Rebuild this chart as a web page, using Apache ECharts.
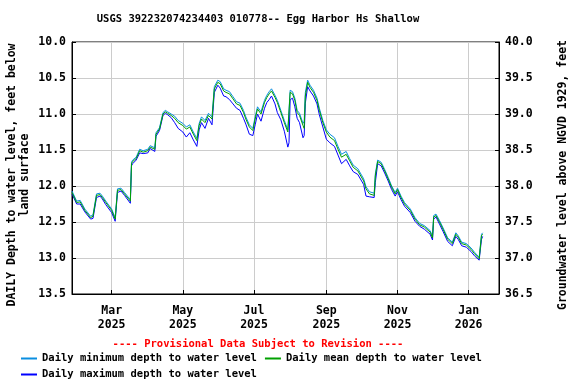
<!DOCTYPE html>
<html>
<head>
<meta charset="utf-8">
<script src="https://cdn.jsdelivr.net/npm/echarts@6/dist/echarts.min.js"></script>
<style>
html,body{margin:0;padding:0;background:#fff;}
#chart{width:576px;height:384px;}
</style>
</head>
<body>
<div id="chart"></div>
<script>
var titleText = 'USGS 392232074234403 010778-- Egg Harbor Hs Shallow';
var provisionalText = '---- Provisional Data Subject to Revision ----';
var leftAxisName = 'DAILY Depth to water level, feet below\nland surface';
var rightAxisName = 'Groundwater level above NGVD 1929, feet';
var seriesNames = ['Daily minimum depth to water level', 'Daily mean depth to water level', 'Daily maximum depth to water level'];

var dates = [
'2025-01-26','2025-01-30','2025-02-02','2025-02-06','2025-02-11','2025-02-13','2025-02-16','2025-02-19','2025-02-21','2025-02-24',
'2025-03-01','2025-03-04','2025-03-06','2025-03-09','2025-03-12','2025-03-17','2025-03-18','2025-03-19','2025-03-22','2025-03-25',
'2025-03-28','2025-04-01','2025-04-03','2025-04-07','2025-04-08','2025-04-11','2025-04-14','2025-04-16','2025-04-18','2025-04-21',
'2025-04-24','2025-04-27','2025-05-01','2025-05-04','2025-05-07','2025-05-10','2025-05-13','2025-05-15','2025-05-17','2025-05-20',
'2025-05-23','2025-05-26','2025-05-28','2025-05-31','2025-06-02','2025-06-05','2025-06-07','2025-06-10','2025-06-13','2025-06-16',
'2025-06-19','2025-06-22','2025-06-24','2025-06-27','2025-06-30','2025-07-02','2025-07-04','2025-07-07','2025-07-10','2025-07-12',
'2025-07-14','2025-07-16','2025-07-19','2025-07-21','2025-07-24','2025-07-27','2025-07-30','2025-07-31','2025-08-01','2025-08-03',
'2025-08-05','2025-08-07','2025-08-09','2025-08-12','2025-08-13','2025-08-14','2025-08-16','2025-08-18','2025-08-21','2025-08-24',
'2025-08-26','2025-08-29','2025-09-01','2025-09-04','2025-09-08','2025-09-11','2025-09-14','2025-09-18','2025-09-21','2025-09-24',
'2025-09-28','2025-10-03','2025-10-05','2025-10-08','2025-10-12','2025-10-13','2025-10-15','2025-10-18','2025-10-21','2025-10-24',
'2025-10-27','2025-10-30','2025-11-01','2025-11-04','2025-11-07','2025-11-12','2025-11-16','2025-11-20','2025-11-24','2025-11-29',
'2025-12-01','2025-12-02','2025-12-04','2025-12-07','2025-12-10','2025-12-14','2025-12-18','2025-12-21','2025-12-23','2025-12-26',
'2025-12-30','2026-01-03','2026-01-06','2026-01-10','2026-01-12','2026-01-13'
];

var meanDepth = [
12.09,12.23,12.22,12.34,12.44,12.42,12.13,12.12,12.16,12.23,
12.34,12.46,12.06,12.05,12.11,12.21,11.69,11.66,11.62,11.51,
11.53,11.51,11.46,11.49,11.28,11.21,11.00,10.97,10.99,11.02,
11.06,11.12,11.16,11.21,11.18,11.28,11.37,11.16,11.07,11.12,
11.02,11.07,10.65,10.56,10.58,10.68,10.70,10.72,10.79,10.86,
10.88,10.98,11.07,11.18,11.23,11.07,10.93,11.00,10.84,10.77,
10.72,10.68,10.77,10.84,10.98,11.12,11.25,11.27,10.70,10.72,
10.81,10.98,11.02,11.16,11.20,10.75,10.56,10.63,10.70,10.81,
10.95,11.12,11.25,11.32,11.37,11.49,11.60,11.56,11.65,11.74,
11.79,11.93,12.04,12.11,12.13,11.86,11.66,11.69,11.79,11.90,
12.02,12.11,12.05,12.16,12.25,12.34,12.46,12.54,12.57,12.64,
12.72,12.43,12.41,12.50,12.60,12.74,12.80,12.67,12.71,12.80,
12.82,12.88,12.94,13.01,12.69,12.67
];

var minDepth = [
12.07,12.21,12.20,12.32,12.42,12.40,12.11,12.10,12.14,12.21,
12.32,12.44,12.04,12.03,12.09,12.19,11.67,11.64,11.60,11.49,
11.51,11.49,11.44,11.47,11.26,11.19,10.98,10.95,10.97,11.00,
11.03,11.09,11.13,11.18,11.15,11.25,11.34,11.13,11.04,11.09,
10.99,11.04,10.62,10.53,10.55,10.65,10.67,10.69,10.76,10.83,
10.85,10.95,11.04,11.15,11.20,11.04,10.90,10.97,10.81,10.74,
10.69,10.65,10.74,10.81,10.95,11.09,11.22,11.20,10.67,10.69,
10.78,10.95,10.99,11.13,11.10,10.70,10.53,10.60,10.67,10.78,
10.92,11.09,11.22,11.28,11.33,11.45,11.56,11.52,11.62,11.71,
11.76,11.90,12.01,12.08,12.10,11.83,11.64,11.67,11.77,11.88,
12.00,12.09,12.03,12.14,12.23,12.32,12.44,12.52,12.55,12.62,
12.70,12.41,12.39,12.48,12.58,12.72,12.78,12.65,12.69,12.78,
12.80,12.86,12.92,12.99,12.67,12.65
];

var maxDepth = [
12.11,12.25,12.25,12.36,12.46,12.45,12.16,12.14,12.18,12.26,
12.37,12.49,12.09,12.07,12.13,12.24,11.72,11.69,11.64,11.54,
11.55,11.54,11.48,11.52,11.31,11.23,11.02,10.99,11.01,11.05,
11.12,11.20,11.25,11.32,11.26,11.36,11.45,11.22,11.12,11.20,
11.06,11.15,10.70,10.60,10.64,10.75,10.76,10.80,10.86,10.92,
10.95,11.06,11.14,11.28,11.30,11.15,11.00,11.10,10.92,10.84,
10.80,10.75,10.86,10.98,11.08,11.24,11.46,11.40,10.80,10.78,
10.90,11.06,11.12,11.33,11.30,10.85,10.62,10.68,10.75,10.86,
11.01,11.18,11.35,11.40,11.45,11.57,11.69,11.63,11.72,11.80,
11.84,11.98,12.14,12.15,12.16,11.95,11.69,11.72,11.82,11.93,
12.05,12.14,12.08,12.19,12.28,12.37,12.49,12.56,12.60,12.67,
12.75,12.46,12.43,12.53,12.63,12.77,12.83,12.70,12.74,12.83,
12.85,12.91,12.97,13.03,12.74,12.70
];

var xTickDates = ['2025-03-01','2025-05-01','2025-07-01','2025-09-01','2025-11-01','2026-01-01'];
var xTickLabels = ['Mar\n2025','May\n2025','Jul\n2025','Sep\n2025','Nov\n2025','Jan\n2026'];
var xMin = '2025-01-26';
var xMax = '2026-01-27';

function toTs(s) {
  var p = s.split('-');
  return new Date(+p[0], +p[1] - 1, +p[2]).getTime();
}
function pairs(vals) {
  return dates.map(function (d, i) { return [toTs(d), vals[i]]; });
}
var tickTs = xTickDates.map(toTs);

var FONT = 'DejaVu Sans Mono';
var chart = echarts.init(document.getElementById('chart'), null, {renderer: 'canvas'});
chart.setOption({
  animation: false,
  backgroundColor: '#ffffff',
  title: [
    {text: titleText, left: 258, top: 14, textAlign: 'center', padding: 0,
     textStyle: {fontFamily: FONT, fontSize: 10.5, fontWeight: 'bold', color: '#000'}},
    {text: provisionalText, left: 258, top: 339, textAlign: 'center', padding: 0,
     textStyle: {fontFamily: FONT, fontSize: 10.5, fontWeight: 'bold', color: '#ff0000'}}
  ],
  legend: [
    {data: [seriesNames[0], seriesNames[1]], left: 21, top: 352, padding: 0, itemGap: 8,
     itemWidth: 16, itemHeight: 2, icon: 'rect',
     textStyle: {fontFamily: FONT, fontSize: 10.5, fontWeight: 'bold', color: '#000', lineHeight: 13}},
    {data: [seriesNames[2]], left: 21, top: 368, padding: 0,
     itemWidth: 16, itemHeight: 2, icon: 'rect',
     textStyle: {fontFamily: FONT, fontSize: 10.5, fontWeight: 'bold', color: '#000', lineHeight: 13}}
  ],
  grid: {left: 72, right: 77, top: 42, bottom: 90, show: true, borderColor: '#000', borderWidth: 1,
         containLabel: false, outerBoundsMode: 'none'},
  xAxis: {
    type: 'value', min: toTs(xMin), max: toTs(xMax),
    axisLine: {show: true, lineStyle: {color: '#000'}},
    axisTick: {show: true, inside: true, length: 4, lineStyle: {color: '#000'}, customValues: tickTs},
    axisLabel: {
      customValues: tickTs, margin: 10, color: '#000', fontFamily: FONT, fontSize: 11.5, fontWeight: 'bold', lineHeight: 14,
      formatter: function (v) { var i = tickTs.indexOf(v); return i >= 0 ? xTickLabels[i] : ''; }
    },
    splitLine: {show: true, lineStyle: {color: '#cccccc', width: 1}}
  },
  yAxis: [
    {
      type: 'value', inverse: true, min: 10, max: 13.5, interval: 0.5, position: 'left',
      name: leftAxisName, nameLocation: 'middle', nameRotate: 90, nameGap: 40, nameMoveOverlap: false,
      nameTextStyle: {fontFamily: FONT, fontSize: 11.5, fontWeight: 'bold', color: '#000', lineHeight: 13,
        align: 'center', padding: [0, 14, 0, 0]},
      axisLine: {show: true, lineStyle: {color: '#000'}},
      axisTick: {show: true, inside: true, length: 4, lineStyle: {color: '#000'}},
      axisLabel: {margin: 6, color: '#000', fontFamily: FONT, fontSize: 11.5, fontWeight: 'bold',
        formatter: function (v) { return v.toFixed(1); }},
      splitLine: {show: true, lineStyle: {color: '#cccccc', width: 1}}
    },
    {
      type: 'value', min: 36.5, max: 40, interval: 0.5, position: 'right',
      name: rightAxisName, nameLocation: 'middle', nameRotate: 90, nameGap: 58, nameMoveOverlap: false,
      nameTextStyle: {fontFamily: FONT, fontSize: 11.5, fontWeight: 'bold', color: '#000',
        padding: [0, 14, 0, 0]},
      axisLine: {show: true, lineStyle: {color: '#000'}},
      axisTick: {show: true, inside: true, length: 4, lineStyle: {color: '#000'}},
      axisLabel: {margin: 6, color: '#000', fontFamily: FONT, fontSize: 11.5, fontWeight: 'bold',
        formatter: function (v) { return v.toFixed(1); }},
      splitLine: {show: false}
    }
  ],
  series: [
    {name: seriesNames[2], type: 'line', yAxisIndex: 0, data: pairs(maxDepth), showSymbol: false, symbol: 'none',
     color: '#0000ff', lineStyle: {width: 1, color: '#0000ff'}, z: 2},
    {name: seriesNames[0], type: 'line', yAxisIndex: 0, data: pairs(minDepth), showSymbol: false, symbol: 'none',
     color: '#0a8ee0', lineStyle: {width: 1, color: '#0a8ee0'}, z: 3},
    {name: seriesNames[1], type: 'line', yAxisIndex: 0, data: pairs(meanDepth), showSymbol: false, symbol: 'none',
     color: '#00a000', lineStyle: {width: 1, color: '#00a000'}, z: 4}
  ]
});
</script>
</body>
</html>
